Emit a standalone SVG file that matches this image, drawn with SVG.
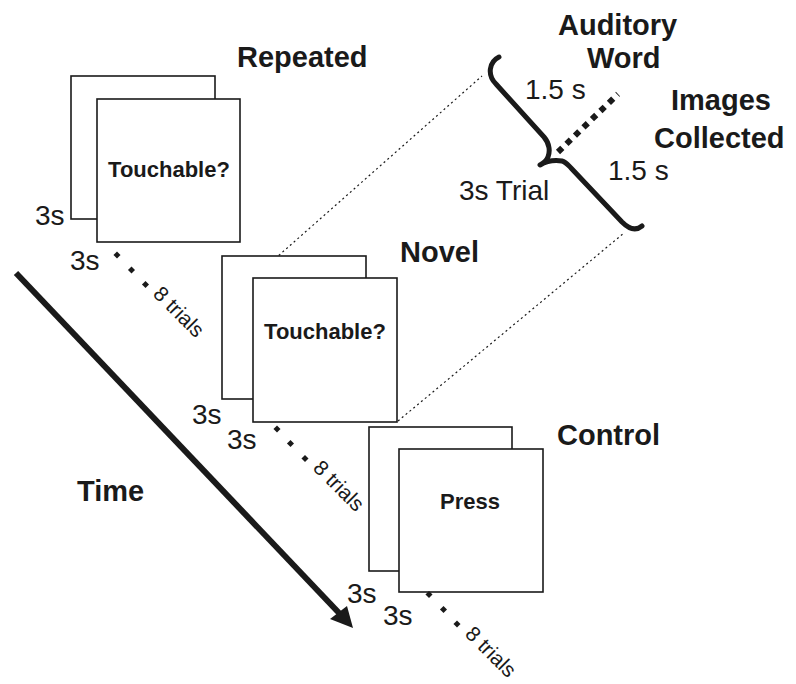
<svg xmlns="http://www.w3.org/2000/svg" width="796" height="684" viewBox="0 0 796 684">
<style>
.card{fill:#fff;stroke:#1a1a1a;stroke-width:1.6}
.title{font-family:"Liberation Sans",Arial,sans-serif;font-weight:bold;font-size:29px;fill:#1a1a1a}
.prompt{font-family:"Liberation Sans",Arial,sans-serif;font-weight:bold;font-size:22px;fill:#1a1a1a;text-anchor:middle}
.lbl{font-family:"Liberation Sans",Arial,sans-serif;font-size:28px;fill:#1a1a1a}
.small{font-family:"Liberation Sans",Arial,sans-serif;font-size:21px;fill:#1a1a1a}
.dot{fill:#1a1a1a}
.thin{fill:none;stroke:#1a1a1a;stroke-width:1.2;stroke-dasharray:2 3}
</style>
<rect width="796" height="684" fill="#fff"/>
<g id="connectors">
<line class="thin" x1="260" y1="272" x2="482" y2="76"/>
<line class="thin" x1="398" y1="421" x2="624" y2="233"/>
<path d="M499,57 C489,62 487,75 496,84 L544,137 C550,144 550,152 548,157 Q546,162 540,165 Q550,159 562,161 C566,162 568,165 571,168 L622,222 C629,229 636,231 642,226" fill="none" stroke="#1a1a1a" stroke-width="5" stroke-linecap="round" stroke-linejoin="round"/>
<line x1="558" y1="152" x2="618" y2="94" stroke="#1a1a1a" stroke-width="6" stroke-dasharray="6 5.8"/>
<line x1="16" y1="273" x2="340" y2="614" stroke="#1a1a1a" stroke-width="6"/>
<polygon points="353,628 330,619 347,606" fill="#1a1a1a"/>
</g>
<g id="repeated">
<rect class="card" x="71" y="76" width="144" height="143"/>
<rect class="card" x="97" y="99" width="143" height="143"/>
<text class="prompt" x="169" y="177">Touchable?</text>
<text class="title" x="237" y="67">Repeated</text>
<text class="lbl" x="35" y="225">3s</text>
<text class="lbl" x="70" y="270">3s</text>
<rect class="dot" x="-2.5" y="-2.5" width="5" height="5" transform="translate(117,255) rotate(45)"/>
<rect class="dot" x="-2.5" y="-2.5" width="5" height="5" transform="translate(131.5,270) rotate(45)"/>
<rect class="dot" x="-2.5" y="-2.5" width="5" height="5" transform="translate(145.5,284.5) rotate(45)"/>
<text class="small" transform="translate(152,295) rotate(45)">8 trials</text>
</g>
<g id="novel">
<rect class="card" x="222" y="256" width="144" height="143"/>
<rect class="card" x="253" y="278" width="144" height="144"/>
<text class="prompt" x="325" y="339">Touchable?</text>
<text class="title" x="400" y="262">Novel</text>
<text class="lbl" x="192" y="424">3s</text>
<text class="lbl" x="227" y="449">3s</text>
<rect class="dot" x="-2.5" y="-2.5" width="5" height="5" transform="translate(277,429) rotate(45)"/>
<rect class="dot" x="-2.5" y="-2.5" width="5" height="5" transform="translate(290.5,443.5) rotate(45)"/>
<rect class="dot" x="-2.5" y="-2.5" width="5" height="5" transform="translate(305,458.5) rotate(45)"/>
<text class="small" transform="translate(312,469) rotate(45)">8 trials</text>
</g>
<g id="control">
<rect class="card" x="369" y="427" width="143" height="144"/>
<rect class="card" x="399" y="449" width="144" height="143"/>
<text class="prompt" x="470" y="509">Press</text>
<text class="title" x="557" y="445">Control</text>
<text class="lbl" x="347" y="603">3s</text>
<text class="lbl" x="383" y="625">3s</text>
<rect class="dot" x="-2.5" y="-2.5" width="5" height="5" transform="translate(429,594.5) rotate(45)"/>
<rect class="dot" x="-2.5" y="-2.5" width="5" height="5" transform="translate(443.5,609.5) rotate(45)"/>
<rect class="dot" x="-2.5" y="-2.5" width="5" height="5" transform="translate(457,624) rotate(45)"/>
<text class="small" transform="translate(464,635) rotate(45)">8 trials</text>
</g>
<g id="time">
<text class="title" x="77" y="501">Time</text>
</g>
<g id="trial">
<text class="title" x="558" y="35">Auditory</text>
<text class="title" x="587" y="68">Word</text>
<text class="title" x="671" y="110">Images</text>
<text class="title" x="654" y="148">Collected</text>
<text class="lbl" x="525" y="99">1.5 s</text>
<text class="lbl" x="608" y="180">1.5 s</text>
<text class="lbl" x="459" y="200">3s Trial</text>
</g>
</svg>
